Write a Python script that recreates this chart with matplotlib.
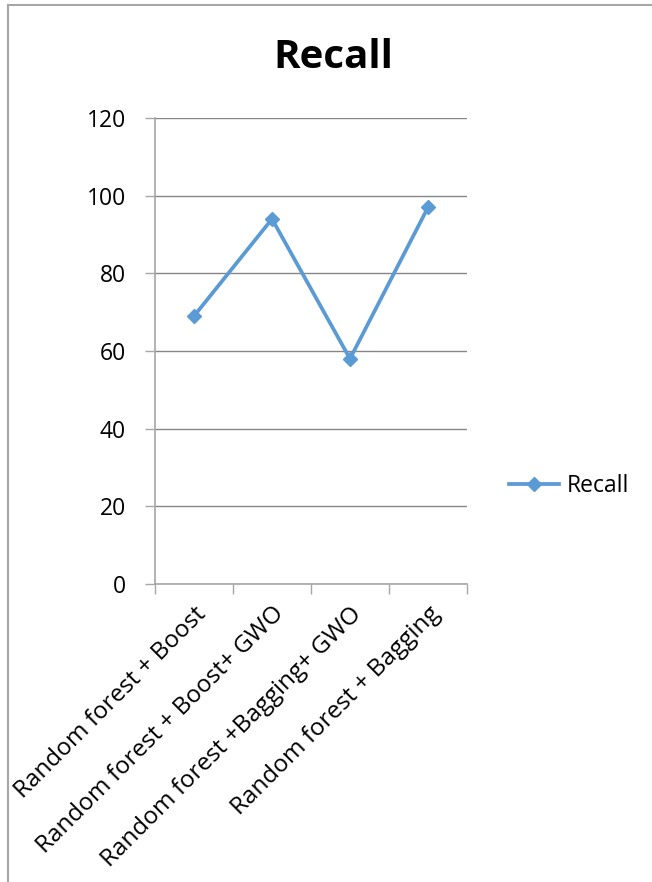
import matplotlib
matplotlib.use("Agg")
import matplotlib.pyplot as plt
from matplotlib.lines import Line2D

plt.rcParams['font.family'] = ['Open Sans', 'DejaVu Sans']

categories = ["Random forest + Boost", "Random forest + Boost+ GWO",
              "Random forest +Bagging+ GWO", "Random forest + Bagging"]
recall = [69, 94, 58, 97]
y_ticks = [0, 20, 40, 60, 80, 100, 120]
series_name = "Recall"

LINE_COLOR = "#5B9BD5"
GRID_COLOR = "#868686"
AXIS_COLOR = "#A6A6A6"

W, H = 652, 882
fig = plt.figure(figsize=(W / 100, H / 100), dpi=100)
fig.patch.set_facecolor("white")

ax = fig.add_axes([155 / W, 1 - 584 / H, 312 / W, 466 / H])
x = list(range(len(categories)))
ax.plot(x, recall, color=LINE_COLOR, lw=2.7, marker="D", markersize=7.5,
        markerfacecolor=LINE_COLOR, markeredgecolor=LINE_COLOR,
        label=series_name)

ax.set_xlim(-0.5, len(categories) - 0.5)
ax.set_ylim(0, 120)
ax.set_yticks(y_ticks)
ax.set_yticklabels([str(v) for v in y_ticks], fontsize=16.5, color="black")
ax.yaxis.grid(True, color=GRID_COLOR, lw=1.0)
ax.set_axisbelow(True)

# category boundary ticks (unlabelled) and centred category labels
ax.set_xticks([i - 0.5 for i in range(len(categories) + 1)])
ax.set_xticklabels([])
ax.set_xticks(x, minor=True)
ax.set_xticklabels(categories, minor=True, rotation=45, ha="right",
                   va="top", rotation_mode="anchor", fontsize=17.5)
ax.tick_params(axis="x", which="minor", length=0, pad=13)
ax.tick_params(axis="x", which="major", length=7, width=1, color=AXIS_COLOR,
               direction="out")
ax.tick_params(axis="y", length=7, width=1, color=AXIS_COLOR,
               direction="out", pad=14)

for side in ("top", "right"):
    ax.spines[side].set_visible(False)
ax.spines["left"].set_color(AXIS_COLOR)
ax.spines["bottom"].set_color(AXIS_COLOR)
ax.spines["left"].set_linewidth(1.2)
ax.spines["bottom"].set_linewidth(1.2)

fig.text(333 / W, 1 - 58 / H, "Recall", ha="center", va="center",
         fontsize=29, fontweight="bold")

fig.legend(handles=ax.get_lines(), loc="center left",
           bbox_to_anchor=(488 / W, 1 - 486 / H), frameon=False,
           fontsize=16.5, handlelength=2.2, handletextpad=0.35)

# chart frame
fig.add_artist(Line2D([8 / W, 8 / W], [0, 1 - 5 / H], color="#A6A6A6",
                      lw=1.5, transform=fig.transFigure))
fig.add_artist(Line2D([8 / W, 1], [1 - 5 / H, 1 - 5 / H], color="#A6A6A6",
                      lw=1.5, transform=fig.transFigure))

fig.savefig("out.png", dpi=100)
